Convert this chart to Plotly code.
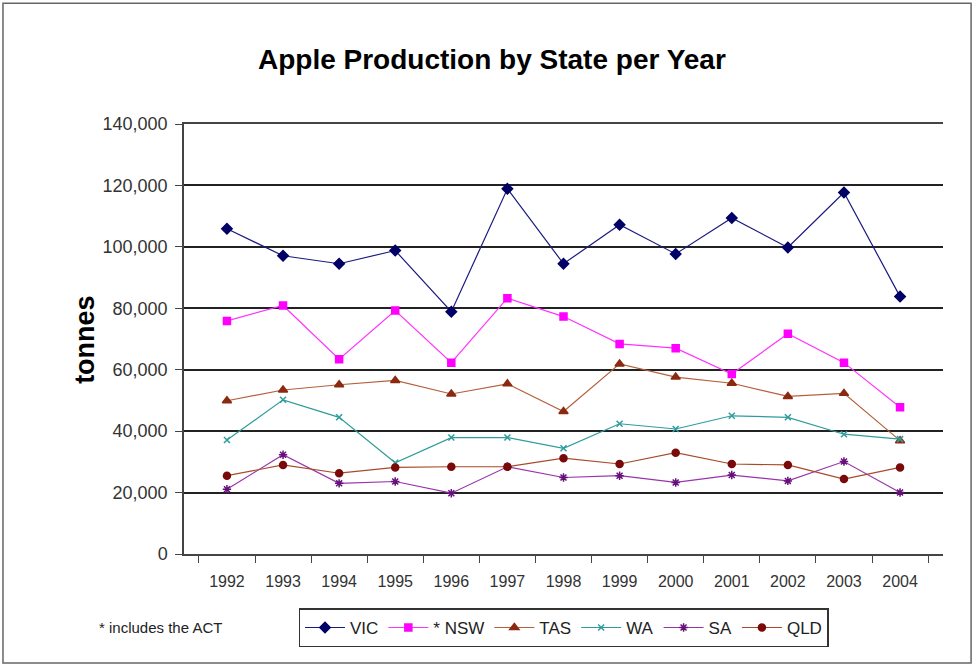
import plotly.graph_objects as go

years = ["1992", "1993", "1994", "1995", "1996", "1997", "1998",
         "1999", "2000", "2001", "2002", "2003", "2004"]

vic = [105900, 97100, 94500, 98800, 78900, 118900, 94500,
       107200, 97700, 109400, 99800, 117700, 83800]
nsw = [75900, 80900, 63400, 79300, 62300, 83300, 77300,
       68400, 67000, 58600, 71700, 62300, 47800]
tas = [49900, 53400, 55100, 56500, 52100, 55400, 46400,
       61900, 57600, 55600, 51300, 52300, 36900]
wa = [37100, 50200, 44500, 29700, 37900, 37900, 34400,
      42400, 40700, 45000, 44500, 39000, 37400]
sa = [21100, 32300, 23000, 23600, 19800, 28400, 24900,
      25500, 23300, 25700, 23800, 30100, 20000]
qld = [25500, 29000, 26300, 28200, 28400, 28400, 31200,
       29300, 33000, 29300, 29000, 24400, 28200]

series = [
    ("VIC", vic, "#1a1a80", "#000066", "diamond", 8),
    ("* NSW", nsw, "#ff33ff", "#ff00ff", "square", 7),
    ("TAS", tas, "#b5603c", "#8b2a10", "triangle-up", 8),
    ("WA", wa, "#2e9c9c", "#2e9c9c", "x-thin", 6),
    ("SA", sa, "#9933aa", "#66107a", "asterisk", 7),
    ("QLD", qld, "#a84a2a", "#7a0a0a", "circle", 7),
]

fig = go.Figure()
for name, vals, lc, mc, sym, sz in series:
    fig.add_trace(go.Scatter(
        x=years, y=vals, name=name, mode="lines+markers",
        line=dict(color=lc, width=1.2),
        marker=dict(symbol=sym, size=sz, color=mc,
                    line=dict(color=mc, width=1.5)),
    ))

fig.update_layout(
    width=976, height=668,
    margin=dict(l=184, r=33, t=124, b=114),
    paper_bgcolor="white", plot_bgcolor="white",
    font=dict(family="Liberation Sans, Arial, sans-serif", size=16, color="#333333"),
    title=dict(text="<b>Apple Production by State per Year</b>",
               x=0.504, xanchor="center", y=0.912, yanchor="middle",
               yref="container",
               font=dict(size=28, color="#000000")),
    showlegend=True,
    legend=dict(orientation="h", x=0.5, xanchor="center", y=-0.172, yanchor="middle",
                bordercolor="#333333", borderwidth=1.5, bgcolor="white",
                font=dict(size=17, color="#222222"),
                itemwidth=40, tracegroupgap=0),
    xaxis=dict(type="category", showline=True, linecolor="#444444", linewidth=1.5,
               mirror=True,
               ticks="outside", tickson="boundaries", ticklen=7, tickcolor="#444444",
               ticklabelstandoff=12,
               showgrid=False, zeroline=False,
               tickfont=dict(size=16, color="#333333")),
    yaxis=dict(range=[0, 140000], dtick=20000, tickformat=",",
               showline=True, linecolor="#444444", linewidth=1.5,
               ticks="outside", ticklen=7, tickcolor="#444444",
               ticklabelstandoff=4,
               showgrid=True, gridcolor="#222222", gridwidth=1.5,
               zeroline=False,
               tickfont=dict(size=18, color="#333333")),
    annotations=[
        dict(text="<b>tonnes</b>", textangle=-90, x=-0.153, y=0.5,
             xref="paper", yref="paper", showarrow=False,
             font=dict(size=27, color="#000000")),
        dict(text="* includes the ACT", x=-0.114, y=-0.172,
             xref="paper", yref="paper", xanchor="left", yanchor="middle",
             showarrow=False, font=dict(size=15, color="#222222")),
    ],
    shapes=[
        dict(type="rect", xref="paper", yref="paper",
             x0=-0.2385, x1=1.037, y0=-0.2535, y1=1.281,
             line=dict(color="#666666", width=1.5), fillcolor="rgba(0,0,0,0)",
             layer="below"),
    ],
)

fig.write_html("out.html", config={"displayModeBar": False},
               post_script="document.body.style.margin='0px';")
